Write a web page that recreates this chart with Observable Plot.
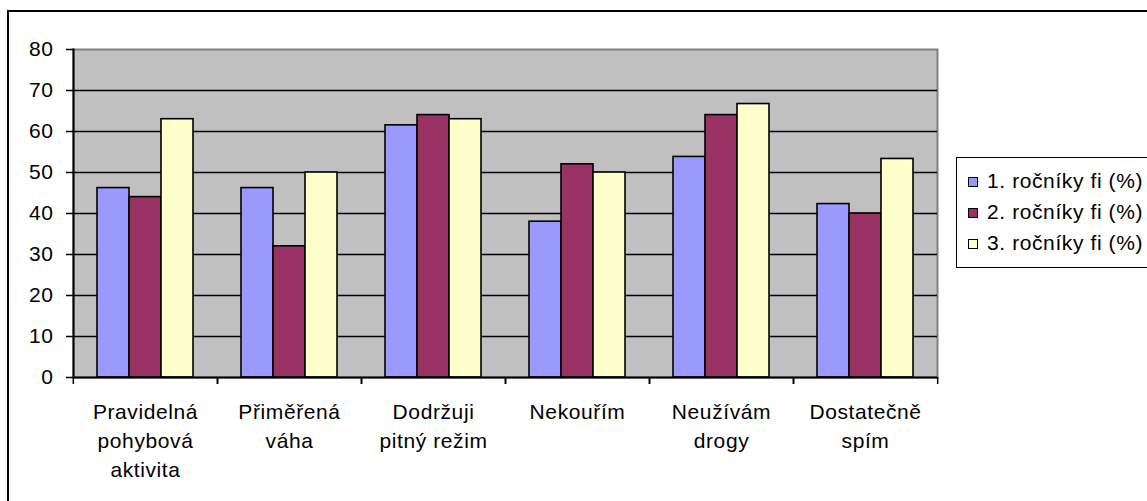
<!DOCTYPE html>
<html>
<head>
<meta charset="utf-8">
<script src="https://cdn.jsdelivr.net/npm/d3@7"></script>
<script src="https://cdn.jsdelivr.net/npm/@observablehq/plot@0.6"></script>
<style>
  html, body { margin: 0; padding: 0; background: #fff; overflow: hidden; }
  #wrap { position: relative; width: 1147px; height: 501px; overflow: hidden; }
  #border { position: absolute; left: 7px; top: 10px; width: 1300px; height: 700px; border: 2px solid #000; }
  #chart { position: absolute; left: 0; top: 0; }
  #legend {
    position: absolute; left: 956px; top: 157px; width: 240px; height: 109px;
    border: 1.5px solid #000; background: #fff;
    font: 21px "Liberation Sans", Arial, sans-serif; letter-spacing: 0.6px; color: #000;
  }
  #legend .item { position: absolute; left: 11px; height: 24px; line-height: 24px; white-space: nowrap; }
  #legend .sw { display: inline-block; width: 8px; height: 8px; border: 1px solid #000; margin-right: 9px; vertical-align: 1px; }
</style>
</head>
<body>
<div id="wrap">
  <div id="border"></div>
  <div id="chart"></div>
  <div id="legend"></div>
</div>
<script>
// Healthy-lifestyle habits by school year (share of respondents, %)
const categories = [
  "Pravidelná\npohybová\naktivita",
  "Přiměřená\nváha",
  "Dodržuji\npitný režim",
  "Nekouřím",
  "Neužívám\ndrogy",
  "Dostatečně\nspím"
];
const series = ["1. ročníky fi (%)", "2. ročníky fi (%)", "3. ročníky fi (%)"];
const year1 = [46.2, 46.2, 61.5, 38.0, 53.8, 42.3];
const year2 = [44.0, 32.0, 64.0, 52.0, 64.0, 40.0];
const year3 = [63.0, 50.0, 63.0, 50.0, 66.7, 53.3];
const colors = ["#9999FF", "#993366", "#FFFFCC"];
const yTicks = [0, 10, 20, 30, 40, 50, 60, 70, 80];

const rows = categories.flatMap((c, i) =>
  [year1, year2, year3].map((vals, k) => ({category: c, series: series[k], value: vals[i]}))
);

const W = 1147, H = 501;
const mL = 72, mR = 209, mT = 49, mB = 124;
const step = (W - mL - mR) / categories.length;
const font = '"Liberation Sans", Arial, sans-serif';

const chart = Plot.plot({
  width: W,
  height: H,
  marginLeft: mL,
  marginRight: mR,
  marginTop: mT,
  marginBottom: mB,
  style: {fontFamily: font, fontSize: "21px", letterSpacing: "0.6px", color: "#000", background: "transparent", overflow: "visible"},
  fx: {domain: categories, padding: 0, label: null, axis: null},
  x: {domain: series, paddingInner: 0, paddingOuter: 0.72, axis: null},
  y: {domain: [0, 80], label: null, axis: null},
  color: {domain: series, range: colors},
  marks: [
    Plot.frame({facet: "super", fill: "#C0C0C0", stroke: "#808080", strokeWidth: 2}),
    Plot.gridY(yTicks.filter((v) => v > 0 && v < 80), {stroke: "#000", strokeOpacity: 1, strokeWidth: 1.5}),
    Plot.barY(rows, {fx: "category", x: "series", y: "value", fill: "series", stroke: "#000", strokeWidth: 1.6}),
    Plot.ruleY([0], {stroke: "#000", strokeWidth: 2}),
    Plot.frame({facet: "super", anchor: "left", stroke: "#000", strokeWidth: 2}),
    Plot.axisY(yTicks, {tickSize: 7, tickPadding: 13, stroke: "#000", strokeWidth: 1.5, fontSize: 21, label: null}),
    Plot.axisFx({anchor: "bottom", tickSize: 0, tickPadding: 21, fontSize: 21, lineHeight: 1.38, label: null}),
    Plot.axisFx({anchor: "bottom", tickSize: 7, strokeWidth: 1.5, tickFormat: () => "", dx: -step / 2, label: null}),
    Plot.axisFx({anchor: "bottom", tickSize: 7, strokeWidth: 1.5, tickFormat: () => "", dx: step / 2, label: null})
  ]
});
document.getElementById("chart").appendChild(chart);

// Legend: one swatch per series
const legend = d3.select("#legend");
series.forEach((s, k) => {
  const item = legend.append("div").attr("class", "item").style("top", `${11 + k * 31}px`);
  item.append("span").attr("class", "sw").style("background", colors[k]);
  item.append("span").text(s);
});
</script>
</body>
</html>
